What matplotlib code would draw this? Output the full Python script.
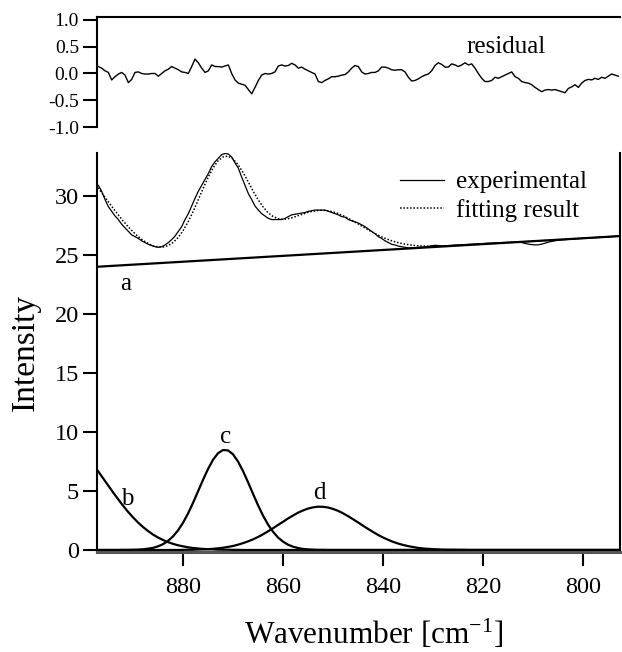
import numpy as np
import matplotlib
matplotlib.use("Agg")
import matplotlib.pyplot as plt

plt.rcParams['font.family'] = ['Liberation Serif', 'DejaVu Serif']
plt.rcParams['mathtext.fontset'] = 'custom'
plt.rcParams['mathtext.rm'] = 'Liberation Serif'
plt.rcParams['mathtext.it'] = 'Liberation Serif:italic'
plt.rcParams['axes.unicode_minus'] = False

# ---------------- data ----------------
# wavenumber axis for measured spectrum and residual (cm^-1)
meas_wn = np.linspace(896.93, 792.93, 157)

experimental = [
    30.9, 30.4, 29.7, 29.1, 28.7, 28.3, 28.0, 27.6, 27.3, 27.0,
    26.7, 26.55, 26.4, 26.2, 26.05, 25.9, 25.8, 25.7, 25.65, 25.7,
    25.85, 26.05, 26.3, 26.6, 27.0, 27.4, 28.0, 28.5, 29.15, 29.8,
    30.4, 30.9, 31.4, 31.9, 32.5, 32.9, 33.2, 33.5, 33.6, 33.55,
    33.3, 32.8, 32.35, 31.6, 30.9, 30.2, 29.7, 29.15, 28.8, 28.5,
    28.3, 28.1, 28.0, 28.0, 28.0, 28.0, 28.1, 28.25, 28.4, 28.45,
    28.5, 28.55, 28.6, 28.7, 28.75, 28.8, 28.8, 28.8, 28.8, 28.7,
    28.6, 28.5, 28.4, 28.25, 28.2, 28.0, 27.9, 27.8, 27.7,
    27.55, 27.4, 27.2, 27.0, 26.8, 26.55, 26.4, 26.2, 26.05, 25.9,
    25.85, 25.75, 25.7, 25.65, 25.6,
    25.60, 25.62, 25.64, 25.66, 25.68, 25.72, 25.78, 25.82, 25.80, 25.76,
    25.78, 25.80, 25.82, 25.84, 25.85, 25.86, 25.88, 25.90, 25.92, 25.93,
    25.95, 25.96, 25.98, 26.00, 26.01, 26.02, 26.03, 26.05, 26.06, 26.07,
    26.08, 26.10, 26.10, 26.05, 25.98, 25.92, 25.88, 25.85, 25.86, 25.92,
    26.00, 26.08, 26.15, 26.20, 26.25, 26.28, 26.30, 26.32, 26.34, 26.36,
    26.38, 26.40, 26.42, 26.44, 26.46, 26.47, 26.49, 26.51, 26.52, 26.54,
    26.56, 26.58, 26.60,
]

residual = [
    0.13, 0.10, 0.05, 0.02, -0.12, -0.06, -0.01, 0.02, -0.03, -0.17,
    -0.11, 0.02, 0.03, 0.00, -0.01, -0.01, 0.00, 0.00, -0.05, 0.00,
    0.05, 0.08, 0.13, 0.10, 0.07, 0.03, 0.02, 0.00, 0.13, 0.27,
    0.20, 0.10, 0.02, 0.05, 0.16, 0.13, 0.13, 0.12, 0.14, 0.16,
    0.00, -0.12, -0.18, -0.20, -0.22, -0.30, -0.38, -0.26, -0.13, -0.03,
    0.00, -0.01, 0.00, 0.03,
    0.14, 0.16, 0.14, 0.15, 0.19, 0.16, 0.10, 0.12, 0.08, 0.05,
    0.02, -0.01, -0.15, -0.17, -0.13, -0.10, -0.06, -0.06, -0.05, -0.03,
    -0.02, 0.03, 0.10, 0.15, 0.13, 0.03, -0.01, 0.00, 0.02, 0.02,
    0.05, 0.12, 0.12, 0.10, 0.07, 0.06, 0.07, 0.07, 0.03, -0.07,
    -0.14, -0.13, -0.10, -0.06, -0.03, -0.01, 0.05, 0.15, 0.20, 0.17,
    0.12, 0.12,
    0.18, 0.16, 0.13, 0.16, 0.20, 0.16, 0.18, 0.10, 0.00, -0.09,
    -0.15, -0.15, -0.13, -0.07, -0.09, -0.06, -0.03, 0.00, 0.03, -0.06,
    -0.09, -0.15, -0.17, -0.18, -0.21, -0.26, -0.30, -0.34, -0.31, -0.30,
    -0.31, -0.30, -0.32, -0.34, -0.36, -0.28, -0.25, -0.21, -0.26, -0.18,
    -0.13, -0.11, -0.12, -0.09, -0.11, -0.07, -0.09, -0.05, -0.01, -0.03,
    -0.05,
]

# fitted components on a 1 cm^-1 grid (897 ... 793)
comp_wn = np.arange(897, 792, -1)

baseline_wn = [897.2, 792.6]       # component a (linear background)
baseline_y = [24.0, 26.6]

comp_b = ([6.69, 6.09, 5.49, 4.89, 4.32, 3.76, 3.24, 2.77, 2.33, 1.95,
           1.61, 1.31, 1.06, 0.85, 0.67, 0.52, 0.40, 0.31, 0.23, 0.17,
           0.13, 0.09, 0.07, 0.05, 0.03, 0.02, 0.02, 0.01, 0.01]
          + [0.0] * 76)

comp_c = ([0.0] * 5
          + [0.01, 0.01, 0.02, 0.03, 0.06, 0.11, 0.18, 0.31, 0.49, 0.77,
             1.15, 1.66, 2.30, 3.09, 3.99, 4.96, 5.94, 6.86, 7.64, 8.20,
             8.47, 8.44, 8.11, 7.50, 6.69, 5.75, 4.76, 3.80, 2.92, 2.16,
             1.55, 1.06, 0.71, 0.45, 0.28, 0.17, 0.09, 0.05, 0.03, 0.01,
             0.01]
          + [0.0] * 59)

comp_d = ([0.0] * 17
          + [0.01, 0.02, 0.02, 0.04, 0.05, 0.07, 0.10, 0.14, 0.19, 0.26,
             0.34, 0.45, 0.58, 0.73, 0.90, 1.10, 1.33, 1.58, 1.84, 2.12,
             2.39, 2.67, 2.92, 3.16, 3.35, 3.51, 3.61, 3.67, 3.66, 3.60,
             3.48, 3.32, 3.11, 2.87, 2.61, 2.34, 2.06, 1.79, 1.53, 1.28,
             1.06, 0.87, 0.69, 0.55, 0.43, 0.33, 0.25, 0.18, 0.13, 0.10,
             0.07, 0.05, 0.03, 0.02, 0.02, 0.01, 0.01]
          + [0.0] * 31)

component_labels = ['a', 'b', 'c', 'd']
label_pos_wn = [891.4, 891.2, 871.5, 852.8]
label_pos_y = [22.0, 3.8, 9.1, 4.3]

x_ticks = [880, 860, 840, 820, 800]
y_ticks = [0, 5, 10, 15, 20, 25, 30]
res_ticks = [-1.0, -0.5, 0.0, 0.5, 1.0]

# fitting result = sum of the components
base_on_grid = np.interp(comp_wn, baseline_wn[::-1], baseline_y[::-1])
fit_result = base_on_grid + np.array(comp_b) + np.array(comp_c) + np.array(comp_d)

# ---------------- figure ----------------
W, H = 622, 652
fig = plt.figure(figsize=(W / 100, H / 100), dpi=100)

def fx(px):
    return px / W

def fy(py):
    return 1 - py / H

L, R = 97, 620
ax = fig.add_axes([fx(L), fy(552), fx(R) - fx(L), fy(153) - fy(552)])
axr = fig.add_axes([fx(L), fy(127), fx(R) - fx(L), fy(17) - fy(127)])

xlim = (897.2, 792.6)
lw_sp = 1.5

# main panel
ax.plot(meas_wn, experimental, color='black', lw=0.9, label='experimental')
ax.plot(comp_wn, fit_result, color='black', lw=1.1, ls=(0, (1, 1.2)),
        label='fitting result')
ax.plot(baseline_wn, baseline_y, color='black', lw=1.6)
ax.plot(comp_wn, comp_b, color='black', lw=1.6)
ax.plot(comp_wn, comp_c, color='black', lw=1.6)
ax.plot(comp_wn, comp_d, color='black', lw=1.6)

for t, xw, yv in zip(component_labels, label_pos_wn, label_pos_y):
    ax.text(xw, yv, t, fontsize=18, ha='center', va='baseline')

ax.set_xlim(*xlim)
ax.set_ylim(-0.17, 33.64)
ax.set_xticks(x_ticks)
ax.set_yticks(y_ticks)
ax.spines['top'].set_visible(False)
for s in ['left', 'right']:
    ax.spines[s].set_linewidth(lw_sp)
ax.spines['bottom'].set_linewidth(2.2)
ax.spines['bottom'].set_color('#555555')
ax.tick_params(axis='both', direction='out', length=10, width=1.5,
               labelsize=17.5, right=False, top=False)
ax.tick_params(axis='x', pad=8)
ax.tick_params(axis='y', pad=3)

leg = ax.legend(loc='upper left', bbox_to_anchor=(fx(400), fy(171)),
                bbox_transform=fig.transFigure, frameon=False, fontsize=18,
                handlelength=1.75, handletextpad=0.5, labelspacing=0.22,
                borderpad=0, borderaxespad=0)

# residual panel
axr.plot(meas_wn, residual, color='black', lw=1.0)
axr.set_xlim(*xlim)
axr.set_ylim(-1.0, 1.056)
axr.set_yticks(res_ticks)
axr.set_yticklabels([f"{v:.1f}" for v in res_ticks])
axr.set_xticks([])
axr.spines['bottom'].set_visible(False)
axr.spines['right'].set_visible(False)
axr.spines['left'].set_linewidth(lw_sp)
axr.spines['top'].set_linewidth(lw_sp)
axr.tick_params(axis='y', direction='out', length=10, width=1.5,
                labelsize=14, pad=3)
axr.text(815.4, 0.39, 'residual', fontsize=18, ha='center', va='baseline')

fig.text(fx(374), fy(644), 'Wavenumber [cm$^{-1}$]', fontsize=22.5,
         ha='center', va='baseline')
fig.text(fx(10), fy(352.5), 'Intensity', fontsize=24, rotation=90,
         ha='left', va='center')

fig.savefig('out.png', dpi=100)
